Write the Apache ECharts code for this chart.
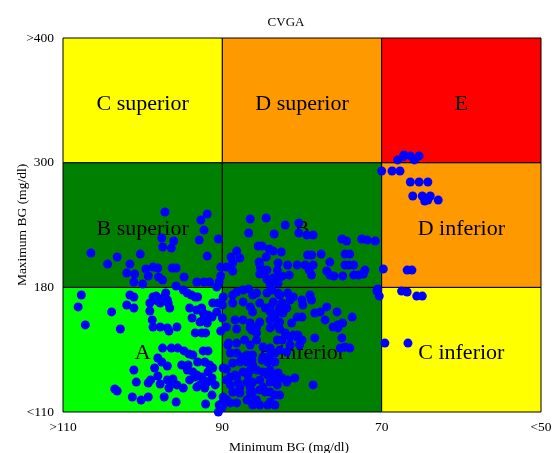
<!DOCTYPE html>
<html>
<head>
<meta charset="utf-8">
<script src="https://cdn.jsdelivr.net/npm/echarts@6/dist/echarts.min.js"></script>
<style>html,body{margin:0;padding:0;background:#fff}#c{width:555px;height:453px}</style>
</head>
<body>
<div id="c"></div>
<script>
// Zone boundaries (mg/dl)
const minBounds = [110, 90, 70, 50];      // x: Minimum BG, left to right
const maxBounds = [110, 180, 300, 400];   // y: Maximum BG, bottom to top
const xTickLabels = {110: '>110', 90: '90', 70: '70', 50: '<50'};
const yTickLabels = ['<110', '180', '300', '>400'];
// Zone names, rows from bottom to top, columns from left to right
const zoneNames = [
  ['A', 'B inferior', 'C inferior'],
  ['B superior', 'B', 'D inferior'],
  ['C superior', 'D superior', 'E']
];
const zoneColors = [
  ['#00ff00', '#008000', '#ffff00'],
  ['#008000', '#008000', '#ff9900'],
  ['#ffff00', '#ff9900', '#ff0000']
];
// [minimum BG, maximum BG] per subject (mg/dl)
const bSuperior = [[97.2,252.5],[91.9,250.6],[92.7,244.8],[92.3,235.1],[97.6,227.4],[96.1,224.6],[92.9,225.5],[90.5,226.5],[97.5,218.8],[96.4,217.8],[106.5,213.0],[100.3,212.0],[103.2,209.2],[104.4,202.4],[91.9,210.1],[101.6,202.4],[98.7,199.5],[98.1,198.6],[99.6,197.6],[96.3,198.6],[95.8,198.6],[90.2,199.5],[102.0,193.8],[101.0,192.8],[99.3,190.9],[98.0,189.9],[97.5,187.0],[94.8,189.9],[101.1,185.1],[100.0,183.2],[93.2,185.1],[92.3,185.1],[91.6,185.1],[90.2,190.9],[90.4,185.1],[90.7,180.3],[95.8,181.3]];
const bZone = [[89.5,199.5],[86.5,245.8],[84.5,246.7],[82.1,240.0],[80.4,241.9],[86.7,232.3],[83.5,231.3],[80.4,232.3],[79.4,230.3],[78.6,230.3],[75.0,226.5],[74.4,224.6],[72.5,226.5],[71.8,225.5],[70.8,224.6],[85.5,219.7],[85.0,219.7],[84.1,216.9],[83.6,214.9],[82.6,214.0],[88.2,214.9],[88.9,209.2],[87.8,208.2],[84.5,209.2],[79.3,211.1],[78.8,211.1],[77.6,212.0],[74.6,212.0],[74.0,212.0],[88.7,203.4],[85.4,204.3],[83.0,203.4],[81.8,201.5],[80.6,201.5],[79.6,201.5],[78.6,201.5],[76.5,204.3],[74.6,201.5],[74.1,201.5],[73.5,201.5],[88.7,195.7],[85.2,198.6],[84.4,196.6],[83.1,196.6],[79.1,196.6],[76.9,195.7],[72.1,196.6],[69.8,197.6],[85.3,192.8],[81.6,191.8],[78.8,191.8],[76.5,191.8],[76.0,190.9],[74.9,190.9],[73.5,191.8],[72.9,191.8],[72.3,192.8],[84.4,188.0],[83.6,189.0],[82.8,189.9],[84.0,183.2],[83.0,184.1],[85.3,202.4],[84.6,195.7],[82.5,190.9],[70.5,179.1]];
const rightZones = [[70.0,292.0],[68.7,292.0],[67.7,292.0],[66.4,281.4],[65.3,281.4],[64.2,281.4],[66.1,267.9],[64.9,267.9],[64.6,263.1],[63.9,267.9],[64.2,264.0],[62.9,264.0],[66.8,196.6],[66.2,196.6],[68.0,302.2],[67.3,304.6],[67.2,306.2],[66.4,305.4],[65.9,302.2],[65.3,305.4],[67.5,177.9],[66.8,177.4],[65.6,175.1],[64.9,175.1],[69.6,148.7],[66.7,148.7],[70.6,177.9],[70.3,175.1]];
const aZone = [[107.7,175.7],[101.6,175.7],[101.1,174.6],[98.3,175.1],[97.1,176.8],[97.3,174.6],[94.4,176.8],[93.9,175.7],[93.4,174.6],[93.1,174.6],[89.9,174.6],[98.7,174.6],[98.1,172.3],[96.9,172.9],[96.6,168.4],[97.8,171.2],[99.1,171.2],[94.1,168.4],[93.2,167.3],[92.6,168.4],[91.2,171.2],[90.0,170.1],[93.8,162.8],[92.8,160.5],[92.4,161.7],[91.3,163.3],[90.7,166.2],[90.0,162.8],[98.8,161.7],[97.8,157.7],[96.9,157.2],[95.7,157.7],[108.1,169.0],[103.9,166.2],[102.0,170.1],[101.1,168.4],[99.1,166.7],[96.8,171.2],[92.4,165.6],[91.8,164.5],[90.5,171.2],[91.9,160.0],[107.2,158.9],[102.8,156.6],[98.7,157.7],[96.7,155.5],[93.4,154.4],[92.6,154.4],[92.1,154.4],[90.2,155.5],[89.5,157.7],[97.5,145.9],[96.4,145.9],[95.6,145.9],[94.8,144.3],[94.2,142.6],[93.7,142.0],[92.4,144.3],[91.8,144.3],[98.1,140.3],[97.6,138.1],[96.9,135.8],[95.1,136.4],[94.3,136.4],[94.4,133.6],[93.1,138.1],[92.2,138.1],[91.6,136.4],[91.2,134.7],[91.8,132.5],[89.9,134.7],[101.1,133.6],[93.7,132.5],[93.4,129.7],[94.1,128.0],[92.6,129.7],[92.4,128.0],[91.9,126.8],[91.3,129.1],[100.8,126.8],[99.3,126.3],[99.0,128.0],[98.1,130.2],[96.9,128.0],[96.2,128.5],[97.8,125.7],[96.7,123.5],[95.7,125.2],[94.9,123.5],[93.2,124.0],[92.8,125.2],[92.2,123.5],[90.9,125.2],[103.5,122.9],[103.2,121.8],[101.3,118.4],[100.2,116.7],[99.3,118.4],[97.3,118.4],[95.8,115.6],[92.1,114.5],[91.3,119.5],[90.4,113.9],[90.0,115.1],[90.5,110.0],[89.9,118.4],[89.5,128.0],[89.5,134.1],[89.2,148.7],[89.0,143.1],[98.5,134.7],[93.2,130.8],[96.3,126.3],[94.9,178.5]];
const bInferior = [[88.2,156.6],[86.5,157.2],[85.7,157.7],[89.3,147.6],[88.2,148.7],[86.5,147.6],[85.7,150.4],[88.2,143.1],[87.5,140.9],[86.9,142.0],[86.3,139.2],[84.9,140.9],[84.3,138.1],[84.0,145.9],[89.0,129.7],[88.4,130.8],[87.4,132.5],[86.5,133.6],[85.7,133.6],[84.9,132.5],[84.3,130.8],[83.6,130.8],[83.0,131.9],[89.0,125.2],[88.0,126.3],[86.9,126.8],[86.2,126.8],[85.3,128.0],[84.0,126.8],[83.1,125.2],[88.7,121.2],[87.8,120.7],[86.5,121.2],[85.3,122.4],[84.6,121.2],[84.0,121.2],[83.4,119.5],[90.0,112.8],[89.0,115.1],[88.2,115.1],[86.9,116.7],[86.2,113.9],[85.3,113.9],[84.3,113.9],[83.4,113.9],[88.2,177.4],[87.4,178.5],[86.7,179.1],[85.7,176.8],[88.7,171.2],[87.4,171.8],[86.5,169.0],[86.2,166.2],[85.3,171.2],[84.6,168.4],[84.0,166.2],[83.6,171.8],[88.4,161.7],[87.4,161.7],[86.5,160.0],[85.3,160.5],[84.0,161.7],[83.1,158.9],[83.0,166.2],[88.7,175.7],[86.2,175.7],[84.4,176.8],[82.8,175.7],[81.8,176.8],[81.1,174.6],[80.0,172.9],[79.0,175.7],[84.0,169.0],[82.5,171.2],[81.9,168.4],[81.5,172.9],[79.9,170.1],[78.8,172.9],[82.4,165.6],[80.6,163.3],[80.0,163.3],[78.4,165.6],[77.7,166.2],[76.9,169.0],[75.6,166.2],[77.1,161.7],[73.7,163.3],[83.4,163.3],[76.1,157.7],[75.5,157.2],[74.9,160.0],[86.3,156.0],[85.7,154.4],[84.0,157.2],[82.8,156.6],[81.3,160.0],[81.5,152.1],[80.6,152.1],[80.0,150.4],[83.1,150.4],[82.5,150.4],[78.4,151.6],[75.0,151.6],[87.2,150.4],[84.9,146.5],[82.8,144.8],[81.5,147.6],[80.3,147.6],[74.6,146.5],[74.0,145.9],[86.2,142.0],[84.0,142.0],[83.4,143.1],[81.9,143.7],[88.7,137.5],[87.8,138.1],[86.9,138.1],[86.2,136.4],[85.0,139.2],[83.4,138.1],[88.2,129.7],[86.8,130.8],[83.1,129.1],[82.5,129.1],[81.8,128.0],[80.9,129.1],[78.6,125.2],[87.8,124.0],[86.5,124.0],[84.9,124.0],[82.8,119.5],[86.2,121.2],[89.4,116.7],[86.5,118.4],[85.7,116.7],[82.8,160.5],[82.1,154.4],[81.1,153.2],[80.5,153.2],[75.5,158.9],[75.2,145.9],[84.0,133.6],[81.9,126.8],[84.0,115.6],[83.8,178.5],[83.0,176.8],[82.8,168.4]];

// Maximum BG axis is divided into equal-height bands (110-180, 180-300, 300-400)
function maxToBand(v) {
  for (let i = 0; i < maxBounds.length - 1; i++) {
    if (v <= maxBounds[i + 1] || i === maxBounds.length - 2) {
      return i + (v - maxBounds[i]) / (maxBounds[i + 1] - maxBounds[i]);
    }
  }
}

const FONT = 'Liberation Serif';
const readings = [].concat(bSuperior, bZone, rightZones, aZone, bInferior);

const areas = [];
for (let r = 0; r < 3; r++) {
  for (let c = 0; c < 3; c++) {
    areas.push([
      { name: zoneNames[r][c], xAxis: minBounds[c], yAxis: r,
        itemStyle: { color: zoneColors[r][c], borderColor: '#000', borderWidth: 1 } },
      { xAxis: minBounds[c + 1], yAxis: r + 1 }
    ]);
  }
}

const chart = echarts.init(document.getElementById('c'), null, { renderer: 'canvas' });
chart.setOption({
  animation: false,
  backgroundColor: '#fff',
  textStyle: { fontFamily: FONT },
  graphic: [{
    type: 'text', x: 286, y: 23,
    style: { text: 'CVGA', fontFamily: FONT, fontSize: 13, fill: '#000',
      textAlign: 'center', textVerticalAlign: 'middle' }
  }],
  grid: { left: 63, right: 14, top: 38, bottom: 41, containLabel: false, outerBoundsMode: 'none' },
  xAxis: {
    type: 'value', min: 50, max: 110, interval: 20, inverse: true,
    name: 'Minimum BG (mg/dl)', nameLocation: 'middle', nameGap: 28,
    nameTextStyle: { fontFamily: FONT, fontSize: 13.5, color: '#000', padding: [0, 26, 0, 0] },
    axisLine: { show: false }, axisTick: { show: false }, splitLine: { show: false },
    axisLabel: { margin: 8, fontFamily: FONT, fontSize: 13.5, color: '#000',
      formatter: v => xTickLabels[v] }
  },
  yAxis: {
    type: 'value', min: 0, max: 3, interval: 1,
    name: 'Maximum BG (mg/dl)', nameLocation: 'middle', nameGap: 34, nameMoveOverlap: false,
    nameTextStyle: { fontFamily: FONT, fontSize: 13.5, color: '#000' },
    axisLine: { show: false }, axisTick: { show: false }, splitLine: { show: false },
    axisLabel: { margin: 9, fontFamily: FONT, fontSize: 13.5, color: '#000',
      formatter: v => yTickLabels[Math.round(v)] }
  },
  series: [
    {
      type: 'scatter', data: [], z: 1, silent: true,
      markArea: {
        silent: true,
        label: { show: true, position: 'inside', formatter: '{b}', color: '#000',
          fontFamily: FONT, fontSize: 22, offset: [0, 4] },
        data: areas
      }
    },
    {
      type: 'scatter', z: 3, clip: false, symbol: 'circle', symbolSize: 9,
      itemStyle: { color: '#0000ff', opacity: 1 },
      data: readings.map(p => [p[0], maxToBand(p[1])])
    }
  ]
});
</script>
</body>
</html>
